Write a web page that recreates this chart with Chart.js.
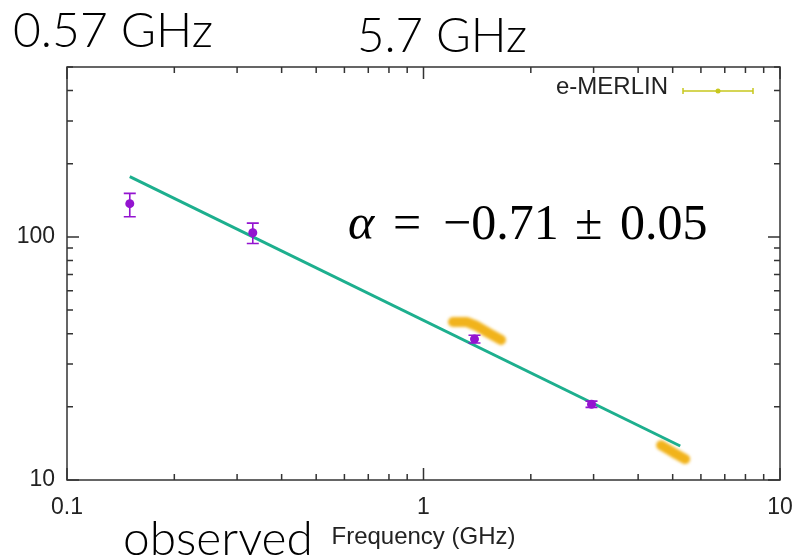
<!DOCTYPE html>
<html>
<head>
<meta charset="utf-8">
<script src="https://cdn.jsdelivr.net/npm/chart.js@4.4.1/dist/chart.umd.min.js"></script>
<style>
  html, body { margin: 0; padding: 0; background: #fff; }
  canvas { display: block; }
</style>
</head>
<body>
<canvas id="spectrum" width="798" height="557"></canvas>
<script>
// flux density measurements (mJy) with error bars
const obsFreq = [0.150, 0.332, 1.39, 2.96];
const obsFlux = [137, 104, 38.0, 20.5];
const obsLow  = [121, 94, 36.6, 19.9];
const obsHigh = [151, 114, 39.4, 21.1];

// e-MERLIN in-band points (null breaks the two bands apart)
const merlinFreq = [1.21, 1.32, 1.41, 1.52, 1.65, 3.0, 4.64, 5.01, 5.42];
const merlinFlux = [44.7, 44.7, 43.0, 40.3, 37.7, null, 13.9, 13.0, 12.2];

// power-law fit, end points
const fitFreq = [0.15, 5.25];
const fitFlux = [177, 13.8];

// axis ticks and which ones get a label
const xTicks = [0.1, 0.2, 0.3, 0.4, 0.5, 0.6, 0.7, 0.8, 0.9, 1, 2, 3, 4, 5, 6, 7, 8, 9, 10];
const xLabels = [0.1, 1, 10];
const yTicks = [10, 20, 30, 40, 50, 60, 70, 80, 90, 100, 200, 300, 400, 500];
const yLabels = [10, 100];

const toPoints = (xs, ys) => xs.map((x, i) => ({ x: x, y: ys[i] }));

const PURPLE = '#9414d0';
const TEAL = '#1daf8e';
const GOLD = 'rgba(240, 172, 8, 0.92)';
const AXIS = '#333';
const labelFont = { family: '"Liberation Sans", Arial, sans-serif', size: 23 };

// draw text so that it spans a given width
function fitText(ctx, text, x, y, width, family, weight) {
  ctx.font = weight + ' 48px ' + family;
  const size = 48 * width / ctx.measureText(text).width;
  ctx.font = weight + ' ' + size.toFixed(1) + 'px ' + family;
  ctx.fillText(text, x, y);
}

const decor = {
  id: 'decor',
  beforeDatasetDraw(chart, args) {
    if (args.index === 2) {
      chart.ctx.save();
      chart.ctx.filter = 'blur(1.6px)';
    }
  },
  afterDatasetDraw(chart, args) {
    if (args.index === 2) chart.ctx.restore();
  },
  afterDatasetsDraw(chart) {
    const { ctx, scales: { x, y } } = chart;
    ctx.save();
    ctx.strokeStyle = PURPLE;
    ctx.lineWidth = 1.6;
    obsFreq.forEach((f, i) => {
      const px = x.getPixelForValue(f);
      const lo = y.getPixelForValue(obsLow[i]);
      const hi = y.getPixelForValue(obsHigh[i]);
      ctx.beginPath();
      ctx.moveTo(px, lo); ctx.lineTo(px, hi);
      ctx.moveTo(px - 6, lo); ctx.lineTo(px + 6, lo);
      ctx.moveTo(px - 6, hi); ctx.lineTo(px + 6, hi);
      ctx.stroke();
    });
    ctx.restore();
  },
  afterDraw(chart) {
    const { ctx, chartArea: a, scales: { x, y } } = chart;
    ctx.save();

    // frame with inward ticks on all four sides
    ctx.strokeStyle = AXIS;
    ctx.lineWidth = 1.5;
    ctx.strokeRect(a.left, a.top, a.right - a.left, a.bottom - a.top);
    ctx.beginPath();
    x.ticks.forEach(t => {
      const px = x.getPixelForValue(t.value);
      const len = xLabels.includes(t.value) ? 12 : 6;
      ctx.moveTo(px, a.bottom); ctx.lineTo(px, a.bottom - len);
      ctx.moveTo(px, a.top); ctx.lineTo(px, a.top + len);
    });
    y.ticks.forEach(t => {
      const py = y.getPixelForValue(t.value);
      const len = yLabels.includes(t.value) ? 12 : 6;
      ctx.moveTo(a.left, py); ctx.lineTo(a.left + len, py);
      ctx.moveTo(a.right, py); ctx.lineTo(a.right - len, py);
    });
    ctx.stroke();

    // key
    ctx.fillStyle = '#222';
    ctx.font = '24px ' + labelFont.family;
    ctx.textAlign = 'right';
    ctx.textBaseline = 'middle';
    ctx.fillText('e-MERLIN', 668, 87);
    ctx.strokeStyle = '#c8c81e';
    ctx.lineWidth = 1.5;
    ctx.beginPath();
    ctx.moveTo(683, 91); ctx.lineTo(753, 91);
    ctx.moveTo(683, 88); ctx.lineTo(683, 94);
    ctx.moveTo(753, 88); ctx.lineTo(753, 94);
    ctx.stroke();
    ctx.fillStyle = '#c8c81e';
    ctx.beginPath();
    ctx.arc(718, 91, 2.5, 0, Math.PI * 2);
    ctx.fill();

    // spectral index
    ctx.fillStyle = '#000';
    ctx.textAlign = 'left';
    ctx.textBaseline = 'alphabetic';
    const serif = '"Liberation Serif", "Times New Roman", serif';
    ctx.font = 'italic 50px ' + serif;
    ctx.fillText('α', 348, 239);
    ctx.font = '50px ' + serif;
    ctx.fillText('=', 393, 239);
    ctx.fillText('−0.71', 443, 239);
    ctx.fillText('±', 575, 239);
    ctx.fillText('0.05', 620, 239);

    // band annotations
    const gothic = 'Lato, "DejaVu Sans", sans-serif';
    fitText(ctx, '0.57 GHz', 13, 47, 200, gothic, 300);
    fitText(ctx, '5.7 GHz', 357, 52, 170, gothic, 300);
    fitText(ctx, 'observed', 123, 555, 190, gothic, 300);
    ctx.restore();
  }
};

new Chart(document.getElementById('spectrum'), {
  type: 'scatter',
  data: {
    datasets: [
      {
        label: 'measured',
        data: toPoints(obsFreq, obsFlux),
        backgroundColor: PURPLE,
        borderWidth: 0,
        pointRadius: 4.5
      },
      {
        label: 'fit',
        data: toPoints(fitFreq, fitFlux),
        showLine: true,
        borderColor: TEAL,
        borderWidth: 3,
        pointRadius: 0
      },
      {
        label: 'e-MERLIN',
        data: toPoints(merlinFreq, merlinFlux),
        showLine: true,
        spanGaps: false,
        borderColor: GOLD,
        borderWidth: 10,
        borderCapStyle: 'round',
        borderJoinStyle: 'round',
        pointRadius: 0
      }
    ]
  },
  options: {
    responsive: false,
    animation: false,
    devicePixelRatio: 1,
    layout: { padding: { top: 67, right: 18, left: 0, bottom: 0 } },
    plugins: {
      legend: { display: false },
      tooltip: { enabled: false }
    },
    scales: {
      x: {
        type: 'logarithmic',
        min: 0.1,
        max: 10,
        afterBuildTicks: s => { s.ticks = xTicks.map(v => ({ value: v })); },
        afterFit: s => {
          s.height = 77;
          s.paddingLeft = 0;
          s.paddingRight = 0;
        },
        grid: { display: false, drawTicks: false },
        border: { display: false },
        ticks: {
          autoSkip: false,
          maxRotation: 0,
          padding: 14,
          color: '#222',
          font: labelFont,
          callback: v => xLabels.includes(v) ? String(v) : ''
        },
        title: {
          display: true,
          text: 'Frequency (GHz)',
          color: '#222',
          font: { family: labelFont.family, size: 24 },
          padding: { top: 0, bottom: 5 }
        }
      },
      y: {
        type: 'logarithmic',
        min: 10,
        max: 500,
        afterBuildTicks: s => { s.ticks = yTicks.map(v => ({ value: v })); },
        afterFit: s => {
          s.width = 67;
          s.paddingTop = 0;
          s.paddingBottom = 0;
        },
        grid: { display: false, drawTicks: false },
        border: { display: false },
        ticks: {
          autoSkip: false,
          padding: 12,
          color: '#222',
          font: labelFont,
          callback: v => yLabels.includes(v) ? String(v) : ''
        }
      }
    }
  },
  plugins: [decor]
});
</script>
</body>
</html>
